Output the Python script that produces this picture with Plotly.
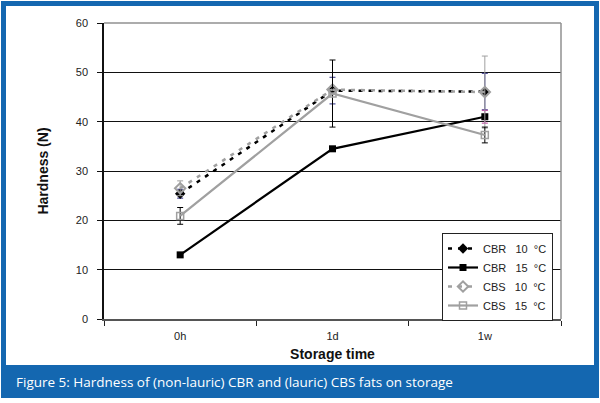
import plotly.graph_objects as go

categories = ["0h", "1d", "1w"]
cbr10 = [25.4, 46.3, 46.1]
cbr10_err = [0.9, 2.7, 3.7]
cbr15 = [13.0, 34.5, 41.0]
cbr15_err = [0.4, 0.0, 1.3]
cbs10 = [26.5, 46.5, 46.0]
cbs10_err = [1.5, 0.0, 7.3]
cbs15 = [20.9, 45.7, 37.3]
cbs15_err = [1.7, 6.8, 1.6]
y_ticks = [0, 10, 20, 30, 40, 50, 60]
names = ["CBR\u00a0\u00a0\u00a010\u00a0\u00a0°C", "CBR\u00a0\u00a0\u00a015\u00a0\u00a0°C",
         "CBS\u00a0\u00a0\u00a010\u00a0\u00a0°C", "CBS\u00a0\u00a0\u00a015\u00a0\u00a0°C"]

W, H = 600, 403
L, R, T, B = 104, 561, 23, 319

def px(x):
    return (x - L) / (R - L)

def py(y):
    return (B - y) / (B - T)

fig = go.Figure()
fig.add_trace(go.Scatter(x=categories, y=cbr10, name=names[0], mode="lines+markers",
                         line=dict(color="black", width=2.5, dash="4px,6px"),
                         marker=dict(symbol="diamond", size=8, color="black"),
                         error_y=dict(type="data", array=cbr10_err, color="#2a2a80", thickness=1, width=3)))
fig.add_trace(go.Scatter(x=categories, y=cbr15, name=names[1], mode="lines+markers",
                         line=dict(color="black", width=2.2),
                         marker=dict(symbol="square", size=7, color="black"),
                         error_y=dict(type="data", array=cbr15_err, color="#c040a0", thickness=1, width=3)))
fig.add_trace(go.Scatter(x=categories, y=cbs10, name=names[2], mode="lines+markers",
                         line=dict(color="#a0a0a0", width=2.5, dash="4px,6px"),
                         marker=dict(symbol="diamond-open", size=8, color="#a0a0a0", line=dict(width=2)),
                         error_y=dict(type="data", array=cbs10_err, color="#a0a0a0", thickness=1, width=3)))
fig.add_trace(go.Scatter(x=categories, y=cbs15, name=names[3], mode="lines+markers",
                         line=dict(color="#a0a0a0", width=2.2),
                         marker=dict(symbol="square-open", size=7, color="#a0a0a0", line=dict(width=1.5)),
                         error_y=dict(type="data", array=cbs15_err, color="black", thickness=1, width=3)))

shapes = [
    dict(type="rect", xref="paper", yref="paper", layer="below",
         x0=px(1), x1=px(599), y0=py(1), y1=py(398),
         fillcolor="#1467b0", line=dict(width=0)),
    dict(type="rect", xref="paper", yref="paper", layer="below",
         x0=px(6), x1=px(594), y0=py(6), y1=py(365),
         fillcolor="white", line=dict(width=0)),
    dict(type="line", xref="paper", yref="paper", x0=0, x1=1, y0=1, y1=1,
         line=dict(color="#909090", width=1.5)),
    dict(type="line", xref="paper", yref="paper", x0=1, x1=1, y0=0, y1=1,
         line=dict(color="#909090", width=1.5)),
]

fig.update_layout(
    width=W, height=H,
    margin=dict(l=L, r=W - R, t=T, b=H - B, autoexpand=False),
    paper_bgcolor="white", plot_bgcolor="rgba(0,0,0,0)",
    font=dict(family="Liberation Sans, Arial", size=11, color="#222"),
    shapes=shapes,
    showlegend=True,
    legend=dict(x=px(442), y=py(233), xanchor="left", yanchor="top",
                bgcolor="white", bordercolor="#222", borderwidth=1,
                font=dict(size=11), tracegroupgap=0),
    xaxis=dict(type="category", range=[-0.5, 2.5], tickson="boundaries",
               ticks="outside", ticklen=5, tickcolor="#222", ticklabelstandoff=6,
               showline=True, linecolor="#555", linewidth=1.5, showgrid=False,
               title=dict(text="<b>Storage time</b>", font=dict(size=14, color="#111"), standoff=8)),
    yaxis=dict(range=[0, 60], tickvals=y_ticks, ticks="outside", ticklen=5, tickcolor="#111",
               ticklabelstandoff=7,
               showline=True, linecolor="#111", linewidth=1.5,
               showgrid=True, gridcolor="#111", gridwidth=1, zeroline=False,
               title=dict(text="<b>Hardness (N)</b>", font=dict(size=14, color="#111"), standoff=24)),
    annotations=[dict(text="Figure 5: Hardness of (non-lauric) CBR and (lauric) CBS fats on storage",
                      xref="paper", yref="paper", x=px(14), y=py(382), xanchor="left", yanchor="middle",
                      showarrow=False, font=dict(family="Open Sans", size=13.5, color="white"))],
)

fig.write_html("out.html", config={"displayModeBar": False},
               post_script="document.body.style.margin='0';")
